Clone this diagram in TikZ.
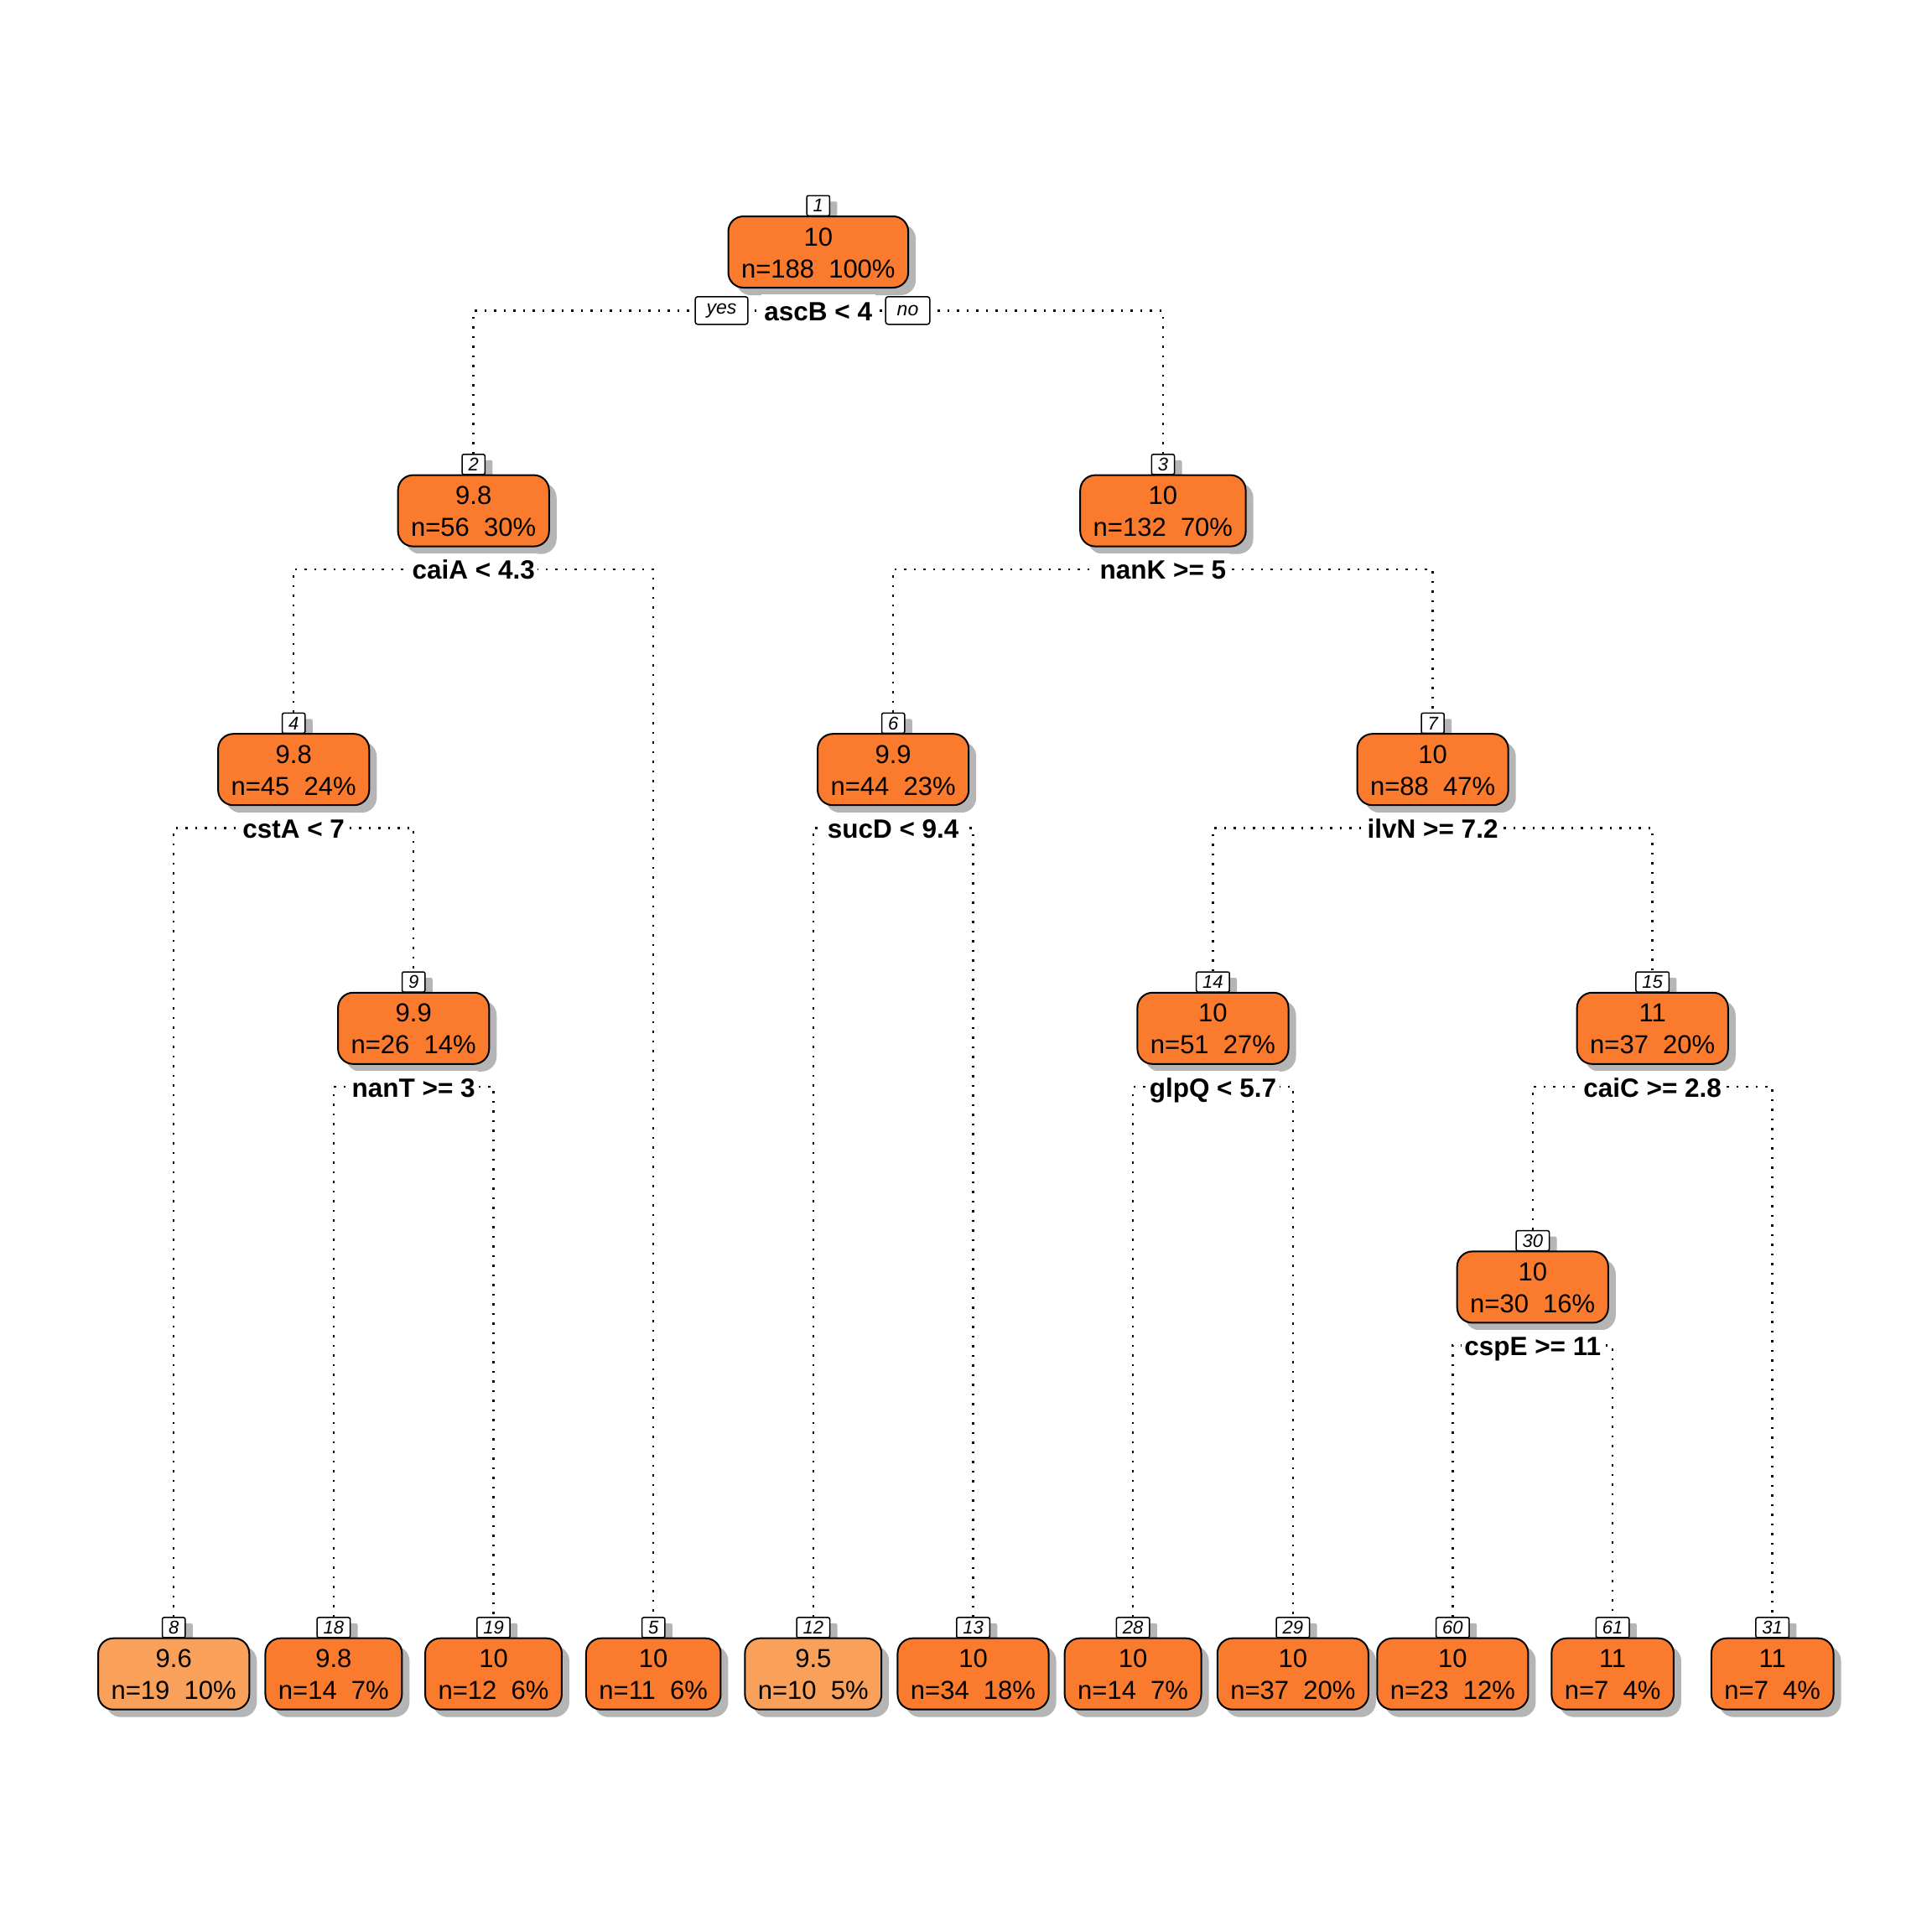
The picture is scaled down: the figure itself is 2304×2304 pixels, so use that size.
\documentclass[tikz,border=0pt]{standalone}
\usepackage{fontspec}
\setmainfont{Liberation Sans}
\usetikzlibrary{shadows}
\pgfdeclarelayer{bg}
\pgfsetlayers{bg,main}
\definecolor{dk}{HTML}{FA7A2E}
\definecolor{lt}{HTML}{F9A05B}
\definecolor{shd}{HTML}{B5B5B5}
\tikzset{
  tbox/.style={draw=black, line width=2pt, rounded corners=18pt, fill=dk,
    inner xsep=15.5pt, inner ysep=0pt, align=center,
    font=\fontsize{31}{38}\selectfont,
    drop shadow={shadow xshift=9pt, shadow yshift=-9pt, fill=shd, opacity=1}},
  light/.style={fill=lt},
  num/.style={draw=black, line width=1.5pt, rounded corners=2pt, fill=white,
    inner xsep=7.5pt, inner ysep=0pt, minimum height=24pt, anchor=south,
    font=\fontsize{22}{24}\selectfont\itshape,
    drop shadow={shadow xshift=9pt, shadow yshift=-7pt, fill=shd, opacity=1}},
  split/.style={fill=white, inner xsep=3.5pt, inner ysep=3pt,
    text height=28pt, text depth=4pt,
    font=\fontsize{31.5}{36}\selectfont\bfseries},
  yn/.style={draw=black, line width=1.5pt, rounded corners=3pt, fill=white,
    inner xsep=13.5pt, inner ysep=0pt, minimum height=33pt,
    font=\fontsize{23}{26}\selectfont\itshape},
  dotline/.style={line width=2.5pt, dash pattern=on 2.5pt off 9pt},
}
% #1 extra style, #2 name, #3 x, #4 centre y, #5 number, #6 value, #7 count/percent
\newcommand\tn[7][]{%
  \node[num] (#2n) at (#3,#4-42.5) {#5};
  \node[tbox,#1] (#2) at (#3,#4) {\rule{0pt}{35pt}#6\\#7\rule[-12pt]{0pt}{0pt}};
}
\begin{document}
\begin{tikzpicture}[x=1pt,y=-1pt]
\begin{pgfonlayer}{bg}
\fill[white] (0,0) rectangle (2304,2304);
\end{pgfonlayer}
\useasboundingbox (0,0) rectangle (2304,2304);

% internal nodes
\tn{t1}{975.8}{300.5}{1}{10}{n=188\ \ 100\%}
\tn{t2}{564.7}{609.1}{2}{9.8}{n=56\ \ 30\%}
\tn{t3}{1386.9}{609.1}{3}{10}{n=132\ \ 70\%}
\tn{t4}{350.2}{917.7}{4}{9.8}{n=45\ \ 24\%}
\tn{t6}{1065.15}{917.7}{6}{9.9}{n=44\ \ 23\%}
\tn{t7}{1708.6}{917.7}{7}{10}{n=88\ \ 47\%}
\tn{t9}{493.2}{1226.3}{9}{9.9}{n=26\ \ 14\%}
\tn{t14}{1446.45}{1226.3}{14}{10}{n=51\ \ 27\%}
\tn{t15}{1970.7}{1226.3}{15}{11}{n=37\ \ 20\%}
\tn{t30}{1827.75}{1534.9}{30}{10}{n=30\ \ 16\%}

% leaves
\tn[light]{t8}{207.2}{1996.2}{8}{9.6}{n=19\ \ 10\%}
\tn{t18}{397.9}{1996.2}{18}{9.8}{n=14\ \ 7\%}
\tn{t19}{588.5}{1996.2}{19}{10}{n=12\ \ 6\%}
\tn{t5}{779.2}{1996.2}{5}{10}{n=11\ \ 6\%}
\tn[light]{t12}{969.8}{1996.2}{12}{9.5}{n=10\ \ 5\%}
\tn{t13}{1160.5}{1996.2}{13}{10}{n=34\ \ 18\%}
\tn{t28}{1351.1}{1996.2}{28}{10}{n=14\ \ 7\%}
\tn{t29}{1541.8}{1996.2}{29}{10}{n=37\ \ 20\%}
\tn{t60}{1732.4}{1996.2}{60}{10}{n=23\ \ 12\%}
\tn{t61}{1923.1}{1996.2}{61}{11}{n=7\ \ 4\%}
\tn{t31}{2113.7}{1996.2}{31}{11}{n=7\ \ 4\%}

% split labels
\node[split] (s1) at (975.8,370.3) {ascB < 4};
\node[split] (s2) at (564.7,678.9) {caiA < 4.3};
\node[split] (s3) at (1386.9,678.9) {nanK >= 5};
\node[split] (s4) at (350.2,987.5) {cstA < 7};
\node[split] (s6) at (1065.15,987.5) {sucD < 9.4};
\node[split] (s7) at (1708.6,987.5) {ilvN >= 7.2};
\node[split] (s9) at (493.2,1296.1) {nanT >= 3};
\node[split] (s14) at (1446.45,1296.1) {glpQ < 5.7};
\node[split] (s15) at (1970.7,1296.1) {caiC >= 2.8};
\node[split] (s30) at (1827.75,1604.7) {cspE >= 11};

\node[yn] (yes) at (860.5,370.3) {yes};
\node[yn] (no) at (1082.5,370.3) {no};

% connectors
\begin{pgfonlayer}{bg}
\draw[dotline] (t2n.north) |- (s1.center) -| (t3n.north);
\draw[dotline] (t4n.north) |- (s2.center) -| (t5n.north);
\draw[dotline] (t6n.north) |- (s3.center) -| (t7n.north);
\draw[dotline] (t8n.north) |- (s4.center) -| (t9n.north);
\draw[dotline] (t12n.north) |- (s6.center) -| (t13n.north);
\draw[dotline] (t14n.north) |- (s7.center) -| (t15n.north);
\draw[dotline] (t18n.north) |- (s9.center) -| (t19n.north);
\draw[dotline] (t28n.north) |- (s14.center) -| (t29n.north);
\draw[dotline] (t30n.north) |- (s15.center) -| (t31n.north);
\draw[dotline] (t60n.north) |- (s30.center) -| (t61n.north);
\end{pgfonlayer}
\end{tikzpicture}
\end{document}
